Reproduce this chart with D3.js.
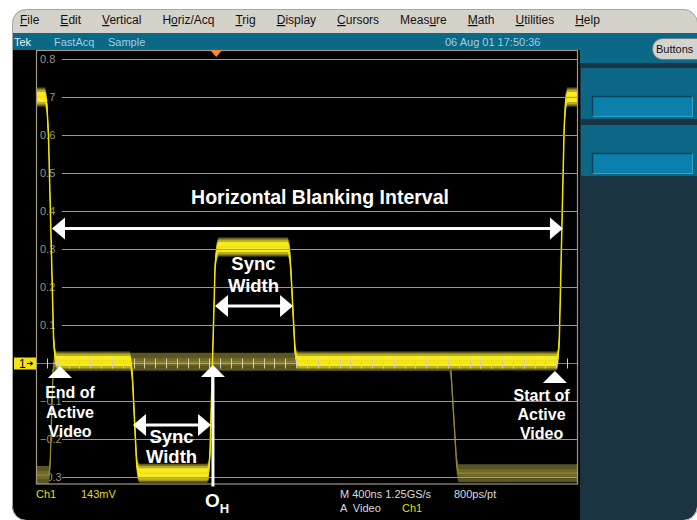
<!DOCTYPE html>
<html>
<head>
<meta charset="utf-8">
<script src="https://cdn.jsdelivr.net/npm/d3@7"></script>
<style>
  body { margin: 0; background: #fff; }
  svg { display: block; font-family: "Liberation Sans", Arial, sans-serif; }
</style>
</head>
<body>
<svg id="scope" width="697" height="520"></svg>
<script>
// graticule labels (volts)
var yTicks = [0.8, 0.7, 0.6, 0.5, 0.4, 0.3, 0.2, 0.1, -0.1, -0.2, -0.3];

// main acquisition, time in ns from left edge of screen, level in volts
var traceTime  = [0, 68, 80, 92, 130, 142, 152, 690, 702, 712, 742, 752, 764, 1262, 1274, 1284, 1322, 1334, 1346, 1858, 1870, 1880, 1912, 1922, 1934, 3840, 3852, 3862, 3898, 3908, 3920, 4000];
var traceVolts = [0.70, 0.70, 0.68, 0.60, 0.06, 0.012, 0.005, 0.005, 0.0, -0.04, -0.26, -0.285, -0.29, -0.29, -0.285, -0.24, 0.26, 0.295, 0.305, 0.305, 0.295, 0.25, 0.03, 0.01, 0.005, 0.005, 0.012, 0.06, 0.62, 0.685, 0.70, 0.70];

// second (fainter) acquisition overlaid in FastAcq
var ghostTime  = [0, 95, 104, 126, 136, 3050, 3062, 3105, 3118, 4000];
var ghostVolts = [-0.295, -0.295, -0.27, -0.02, 0.003, 0.003, -0.02, -0.27, -0.29, -0.29];

// zero-axis minor tick spacing (ns) and screen extent
var timeSpan = [0, 4000];
var tickStep = 80;

var menuItems = ["File", "Edit", "Vertical", "Horiz/Acq", "Trig", "Display", "Cursors", "Measure", "Math", "Utilities", "Help"];
var menuKeys  = [0, 0, 0, 1, 0, 0, 0, 4, 0, 0, 0];

var statusLeft = ["Tek", "FastAcq", "Sample"];
var statusDate = "06 Aug 01 17:50:36";

var readoutLeft  = ["Ch1", "143mV"];
var readoutRight = [["M 400ns 1.25GS/s", "800ps/pt"], ["A  Video", "Ch1"]];

// annotations in (ns, volts)
var hbiArrow   = { t0: 118, t1: 3889, v: 0.354, text: "Horizontal Blanking Interval", tt: 2096, tv: 0.418 };
var syncArrows = [
  { t0: 1321, t1: 1897, v: 0.150, tt: 1605, lines: [0.245, 0.186] },
  { t0: 716,  t1: 1292, v: -0.163, tt: 1000, lines: [-0.210, -0.263] }
];
var pointers = [
  { t: 177,  v: -0.008, tt: 251,  lines: ["End of", "Active", "Video"], lv: [-0.092, -0.145, -0.195] },
  { t: 3830, v: -0.021, tt: 3731, lines: ["Start of", "Active", "Video"], lv: [-0.100, -0.150, -0.200] }
];
var origin = { t: 1306, v: -0.005, v1: -0.325, tv: -0.379 };
var trigger = 1330;

var svg = d3.select("#scope");
var W = 697, H = 520;

var x = d3.scaleLinear().domain(timeSpan).range([36, 578]);
var y = d3.scaleLinear().domain([0.8, -0.3]).range([59, 477]);

var defs = svg.append("defs");
defs.append("clipPath").attr("id", "bodyClip")
  .append("rect").attr("x", 12).attr("y", 9).attr("width", W - 12).attr("height", H - 9).attr("rx", 14);
defs.append("clipPath").attr("id", "gridClip")
  .append("rect").attr("x", 36).attr("y", 50).attr("width", 542).attr("height", 434);

var body = svg.append("g").attr("clip-path", "url(#bodyClip)");

// window chrome
body.append("rect").attr("x", 12).attr("y", 9).attr("width", W).attr("height", 25).attr("fill", "#d5d2c9");
body.append("rect").attr("x", 12).attr("y", 33).attr("width", W).attr("height", 18).attr("fill", "#0b6886");
body.append("rect").attr("x", 12).attr("y", 50).attr("width", 568).attr("height", 470).attr("fill", "#000");
body.append("rect").attr("x", 580).attr("y", 50).attr("width", 117).attr("height", 470).attr("fill", "#1b3441");
body.append("rect").attr("x", 580).attr("y", 50).attr("width", 117).attr("height", 13).attr("fill", "#0b6886");

[68, 125].forEach(function (top) {
  body.append("rect").attr("x", 581).attr("y", top).attr("width", 116).attr("height", 51).attr("fill", "#0c6787");
  body.append("rect").attr("x", 592.5).attr("y", top + 28.5).attr("width", 100).attr("height", 20)
    .attr("fill", "#0b80ac").attr("stroke", "#3d9fc4").attr("stroke-width", 1);
  body.append("path").attr("d", "M592.5," + (top + 48.5) + "V" + (top + 28.5) + "H692.5")
    .attr("fill", "none").attr("stroke", "#06445a").attr("stroke-width", 1.5);
});

svg.append("rect").attr("x", 12.5).attr("y", 9.5).attr("width", W - 12).attr("height", H - 9).attr("rx", 14)
  .attr("fill", "none").attr("stroke", "#a7a7a2").attr("stroke-width", 1);

// menu bar
var mx = 20;
menuItems.forEach(function (m, i) {
  var t = svg.append("text").attr("x", mx).attr("y", 24).attr("font-size", 12).attr("fill", "#111");
  var k = menuKeys[i];
  if (k > 0) t.append("tspan").text(m.slice(0, k));
  t.append("tspan").style("text-decoration", "underline").text(m[k]);
  t.append("tspan").text(m.slice(k + 1));
  mx += t.node().getComputedTextLength() + 21;
});

// status line
var sx = [14, 54, 108];
statusLeft.forEach(function (s, i) {
  svg.append("text").attr("x", sx[i]).attr("y", 46).attr("font-size", 11)
    .attr("fill", i == 0 ? "#e6f2f6" : "#9fcfe0").text(s);
});
svg.append("text").attr("x", 445).attr("y", 46).attr("font-size", 11).attr("fill", "#9fcfe0").text(statusDate);

var btn = svg.append("g");
btn.append("rect").attr("x", 652.5).attr("y", 38.5).attr("width", 60).attr("height", 21).attr("rx", 10)
  .attr("fill", "#d3d3cf").attr("stroke", "#6f7a7e").attr("stroke-width", 1);
btn.append("text").attr("x", 656).attr("y", 53).attr("font-size", 11).attr("fill", "#111").text("Buttons");

// graticule labels
svg.append("g").selectAll("text").data(yTicks).join("text")
  .attr("x", 40).attr("y", function (d) { return y(d); }).attr("dy", "0.36em")
  .attr("font-size", 11).attr("fill", "#9c9584")
  .text(function (d) { return d3.format(".1f")(d); });

// traces
var plot = svg.append("g").attr("clip-path", "url(#gridClip)");

function band(times, volts, h) {
  return d3.area()
    .x(function (d, i) { return x(times[i]); })
    .y0(function (d, i) { return y(volts[i]) + h; })
    .y1(function (d, i) { return y(volts[i]) - h; })(times);
}
function trace(times, volts) {
  return d3.line()
    .x(function (d, i) { return x(times[i]); })
    .y(function (d, i) { return y(volts[i]); })(times);
}

plot.append("path").attr("d", band(ghostTime, ghostVolts, 9)).attr("fill", "#5a5522");
plot.append("path").attr("d", band(ghostTime, ghostVolts, 4)).attr("fill", "#6e6829");
plot.append("path").attr("d", trace(ghostTime, ghostVolts)).attr("fill", "none").attr("stroke", "#8f8833").attr("stroke-width", 1.3);

plot.append("path").attr("d", band(traceTime, traceVolts, 9.5)).attr("fill", "#635e1f");
plot.append("path").attr("d", band(traceTime, traceVolts, 7.5)).attr("fill", "#b9ae1d");
plot.append("path").attr("d", band(traceTime, traceVolts, 5)).attr("fill", "#f5ea24");
plot.append("path").attr("d", trace(traceTime, traceVolts)).attr("fill", "none").attr("stroke", "#f0e400").attr("stroke-width", 1.5);

// graticule
var grid = svg.append("g").attr("stroke", "#a39880").attr("stroke-width", 1.2).attr("fill", "none");
grid.selectAll("line").data(yTicks).join("line")
  .attr("x1", 62).attr("x2", 578)
  .attr("y1", function (d) { return Math.round(y(d)) + 0.5; })
  .attr("y2", function (d) { return Math.round(y(d)) + 0.5; });
grid.append("rect").attr("x", 36.5).attr("y", 50.5).attr("width", 541).attr("height", 433.5);

var y0 = Math.round(y(0)) + 0.5;
var zeroAxis = svg.append("g").attr("stroke", "#d9ceb0").attr("stroke-width", 1);
zeroAxis.append("line").attr("x1", 36).attr("x2", 578).attr("y1", y0).attr("y2", y0).attr("stroke-opacity", 0.6);
zeroAxis.selectAll("line.tick").data(d3.range(timeSpan[0] + tickStep, timeSpan[1], tickStep)).join("line")
  .attr("class", "tick")
  .attr("x1", function (d) { return Math.round(x(d)) + 0.5; })
  .attr("x2", function (d) { return Math.round(x(d)) + 0.5; })
  .attr("y1", y0 - 5).attr("y2", y0 + 5);

// channel 1 ground marker
svg.append("rect").attr("x", 14).attr("y", y0 - 6).attr("width", 22).attr("height", 12).attr("fill", "#f2e414");
svg.append("text").attr("x", 19).attr("y", y0 + 4.5).attr("font-size", 12).attr("fill", "#000").text("1");
svg.append("path").attr("d", "M27," + y0 + "H32M30," + (y0 - 2) + "L33," + y0 + "L30," + (y0 + 2))
  .attr("stroke", "#000").attr("stroke-width", 1).attr("fill", "none");

// trigger position marker
svg.append("path").attr("d", "M" + (x(trigger) - 6) + ",50L" + (x(trigger) + 6) + ",50L" + x(trigger) + ",57Z")
  .attr("fill", "#f28b32");

// readouts
svg.append("text").attr("x", 36).attr("y", 498).attr("font-size", 11).attr("fill", "#e8dc10").text(readoutLeft[0]);
svg.append("text").attr("x", 81).attr("y", 498).attr("font-size", 11).attr("fill", "#e8dc10").text(readoutLeft[1]);
svg.append("text").attr("x", 340).attr("y", 498).attr("font-size", 11).attr("fill", "#dcdcdc").text(readoutRight[0][0]);
svg.append("text").attr("x", 454).attr("y", 498).attr("font-size", 11).attr("fill", "#dcdcdc").text(readoutRight[0][1]);
svg.append("text").attr("x", 340).attr("y", 512).attr("font-size", 11).attr("fill", "#dcdcdc").attr("xml:space", "preserve").text(readoutRight[1][0]);
svg.append("text").attr("x", 402).attr("y", 512).attr("font-size", 11).attr("fill", "#e8dc10").text(readoutRight[1][1]);

// annotations
var notes = svg.append("g").attr("fill", "#fff").attr("font-weight", "bold");

function doubleArrow(t0, t1, v) {
  var a = x(t0), b = x(t1), c = y(v), L = 13, Hh = 11;
  notes.append("line").attr("x1", a + L - 1).attr("x2", b - L + 1).attr("y1", c).attr("y2", c)
    .attr("stroke", "#fff").attr("stroke-width", 3);
  notes.append("path").attr("d", "M" + a + "," + c + "L" + (a + L) + "," + (c - Hh) + "L" + (a + L) + "," + (c + Hh) + "Z");
  notes.append("path").attr("d", "M" + b + "," + c + "L" + (b - L) + "," + (c - Hh) + "L" + (b - L) + "," + (c + Hh) + "Z");
}
function upTriangle(t, v) {
  var a = x(t), c = y(v);
  notes.append("path").attr("d", "M" + a + "," + c + "L" + (a + 12) + "," + (c + 12) + "L" + (a - 12) + "," + (c + 12) + "Z");
}

doubleArrow(hbiArrow.t0, hbiArrow.t1, hbiArrow.v);
notes.append("text").attr("x", x(hbiArrow.tt)).attr("y", y(hbiArrow.tv))
  .attr("text-anchor", "middle").attr("font-size", 19.5).text(hbiArrow.text);

syncArrows.forEach(function (s) {
  doubleArrow(s.t0, s.t1, s.v);
  ["Sync", "Width"].forEach(function (w, i) {
    notes.append("text").attr("x", x(s.tt)).attr("y", y(s.lines[i]))
      .attr("text-anchor", "middle").attr("font-size", 18.5).text(w);
  });
});

pointers.forEach(function (p) {
  upTriangle(p.t, p.v);
  p.lines.forEach(function (w, i) {
    notes.append("text").attr("x", x(p.tt)).attr("y", y(p.lv[i]))
      .attr("text-anchor", "middle").attr("font-size", 16).text(w);
  });
});

upTriangle(origin.t, origin.v);
notes.append("line").attr("x1", x(origin.t)).attr("x2", x(origin.t))
  .attr("y1", y(origin.v) + 11).attr("y2", y(origin.v1))
  .attr("stroke", "#fff").attr("stroke-width", 3);
var oh = notes.append("text").attr("x", x(origin.t) - 8).attr("y", y(origin.tv)).attr("font-size", 19);
oh.append("tspan").text("O");
oh.append("tspan").attr("dy", 6).attr("font-size", 13).text("H");
</script>
</body>
</html>
